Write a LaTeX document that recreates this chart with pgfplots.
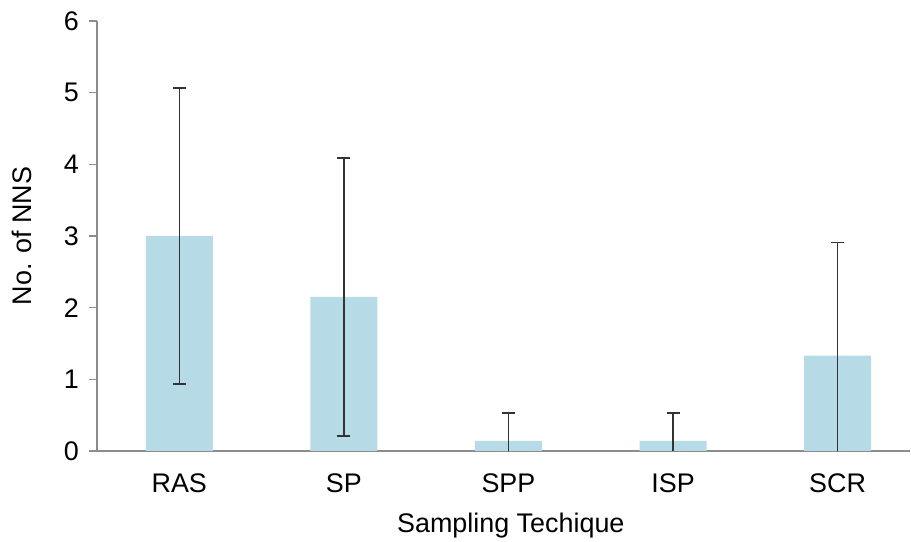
\documentclass[border=0pt]{standalone}
\usepackage{pgfplots}
\pgfplotsset{compat=1.18}
\usepackage{fontspec}
\setmainfont{Liberation Sans}
\definecolor{barblue}{HTML}{B7DBE6}
\definecolor{axgray}{HTML}{8C8C8C}
\definecolor{errgray}{HTML}{333333}
\begin{document}
\begin{tikzpicture}
\begin{axis}[
  scale only axis,
  width=406.5bp, height=215bp,
  xmin=-0.5, xmax=4.44,
  ymin=0, ymax=6,
  axis lines=left,
  axis line style={draw=axgray, line width=0.6pt, -},
  ytick={0,1,2,3,4,5,6},
  xtick={0,1,2,3,4},
  xticklabels={RAS,SP,SPP,ISP,SCR},
  major x tick style={draw=none},
  extra x ticks={-0.5,0.5,1.5,2.5,3.5},
  extra x tick labels={},
  extra x tick style={major tick style={draw=axgray, line width=0.6pt}},
  tick align=outside,
  major tick length=4bp,
  tick style={draw=axgray, line width=0.6pt},
  y tick label style={font=\fontsize{13.5}{16}\selectfont, xshift=-1.5bp},
  x tick label style={font=\fontsize{13.5}{16}\selectfont, yshift=-4bp},
  /pgf/number format/assume math mode=true,
  xlabel={Sampling Techique},
  ylabel={No. of NNS},
  label style={font=\fontsize{13.5}{16}\selectfont},
  xlabel style={at={(rel axis cs:0.509,-0.174)}, anchor=center},
  ylabel style={at={(rel axis cs:-0.0923,0.5)}, anchor=center, rotate=0},
  clip=true,
]
\addplot[ybar, bar width=33.5bp, fill=barblue, draw=none,
  error bars/.cd, y dir=both, y explicit,
  error bar style={draw=errgray, line width=0.75pt},
  error mark options={draw=errgray, line width=0.9pt, mark size=3.25bp, rotate=90}]
  table[x=x, y=y, y error=e] {
  x y e
  0 3.00 2.07
  1 2.15 1.94
  2 0.14 0.39
  3 0.14 0.39
  4 1.33 1.58
  };
\coordinate (ll) at (rel axis cs:0,0);
\coordinate (ur) at (rel axis cs:1,1);
\end{axis}
\pgfresetboundingbox
\path ([shift={(-48.5bp,-45.5bp)}]ll) rectangle ([shift={(0.5bp,10.5bp)}]ur);
\end{tikzpicture}
\end{document}
